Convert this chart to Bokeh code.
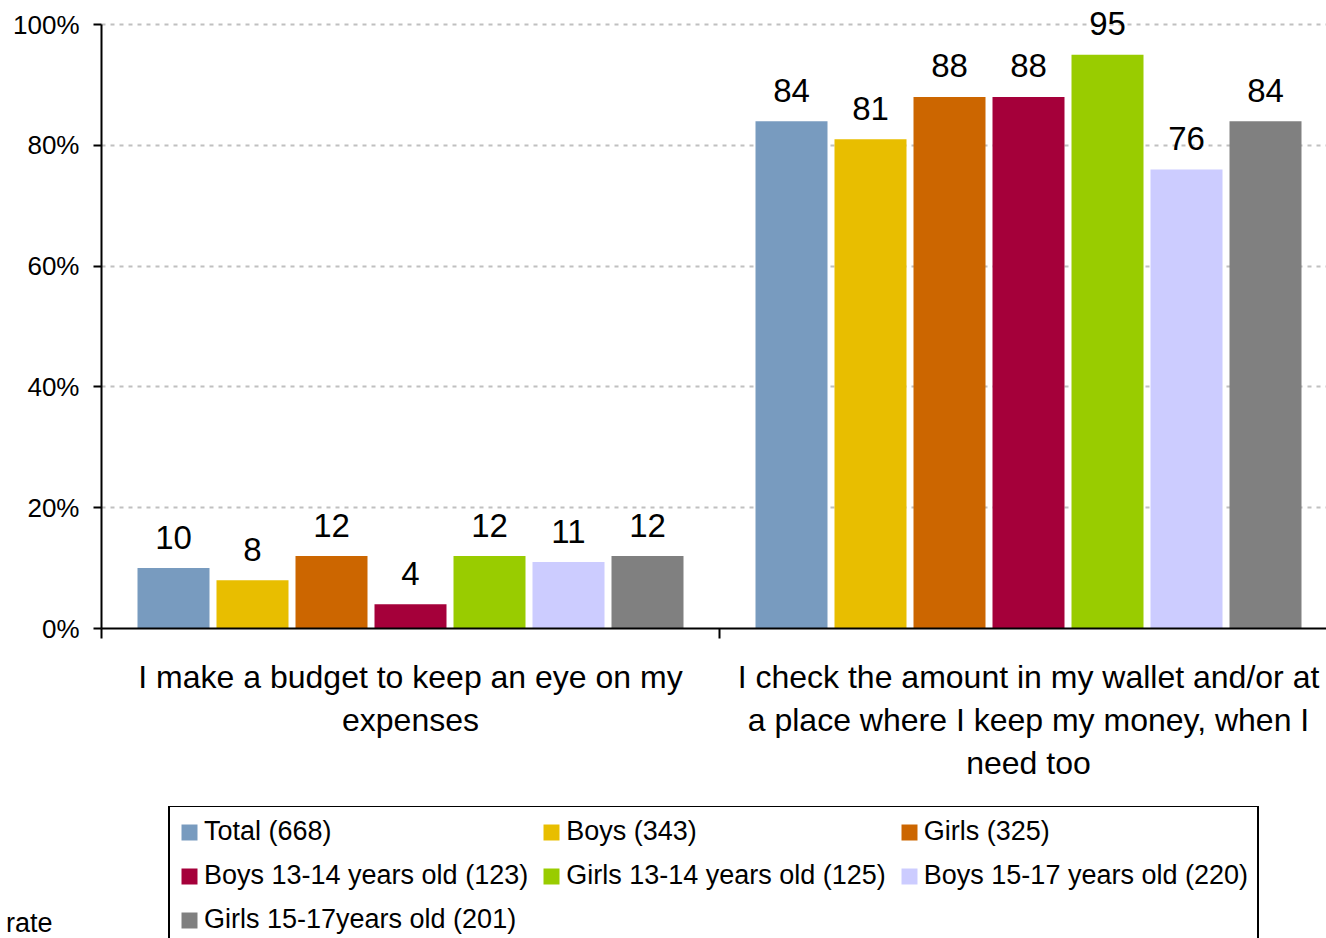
from bokeh.plotting import figure
from bokeh.layouts import column
from bokeh.models import (Range1d, FixedTicker, PrintfTickFormatter, ColumnDataSource,
                          Legend, LegendItem, LinearAxis)
from bokeh.core.properties import value
from bokeh.embed import file_html
from bokeh.resources import INLINE

# ---- data ----
categories = [
    "I make a budget to keep an eye on my\nexpenses",
    "I check the amount in my wallet and/or at\na place where I keep my money, when I\nneed too",
]
series_names = [
    "Total (668)",
    "Boys (343)",
    "Girls (325)",
    "Boys 13-14 years old (123)",
    "Girls 13-14 years old (125)",
    "Boys 15-17 years old (220)",
    "Girls 15-17years old (201)",
]
colors = ["#789BBF", "#E8BE00", "#CC6600", "#A5003A", "#99CC00", "#CCCCFF", "#808080"]
total = [10, 84]
boys = [8, 81]
girls = [12, 88]
boys_13_14 = [4, 88]
girls_13_14 = [12, 95]
boys_15_17 = [11, 76]
girls_15_17 = [12, 84]
series_values = [total, boys, girls, boys_13_14, girls_13_14, boys_15_17, girls_15_17]
y_ticks = [0, 20, 40, 60, 80, 100]
note_text = "rate"

FONT = "Liberation Sans"

# ---- main chart ----
px_per_cat = 618.0
frame_w = 1225
p = figure(width=1326, height=806,
           x_range=Range1d(0, frame_w / px_per_cat),
           y_range=Range1d(0, 100 + 24 / 6.04),
           output_backend="svg", toolbar_location=None,
           min_border_left=101, min_border_right=0, min_border_top=0,
           min_border_bottom=178)
p.outline_line_color = None
p.background_fill_color = "white"
p.border_fill_color = "white"

n = len(series_names)
step = 79.0 / px_per_cat
bw = 72.0 / px_per_cat
cat_centers = [0.5 + i for i in range(len(categories))]

for i, (vals, col) in enumerate(zip(series_values, colors)):
    xs = [c + (i - (n - 1) / 2) * step for c in cat_centers]
    src = ColumnDataSource(dict(x=xs, top=vals, label=[str(v) for v in vals]))
    p.vbar(x="x", top="top", width=bw, bottom=0, source=src,
           fill_color=col, line_color=None)
    p.text(x="x", y="top", text="label", source=src, text_align="center",
           text_baseline="middle", y_offset=-31, text_font=value(FONT),
           text_font_size="33px", text_color="black")

# y axis
p.yaxis.ticker = FixedTicker(ticks=y_ticks)
p.yaxis.formatter = PrintfTickFormatter(format="%d%%")
p.yaxis.bounds = (0, 100)
p.yaxis.axis_line_color = "black"
p.yaxis.axis_line_width = 2
p.yaxis.major_tick_line_width = 2
p.yaxis.major_tick_out = 8
p.yaxis.major_tick_in = 0
p.yaxis.minor_tick_line_color = None
p.yaxis.major_label_text_font = FONT
p.yaxis.major_label_text_font_size = "26px"
p.yaxis.major_label_text_color = "black"
p.yaxis.major_label_standoff = 14

# x axis
p.xaxis.ticker = FixedTicker(ticks=cat_centers, minor_ticks=[0, 1, 2])
p.xaxis.major_label_overrides = {c: lab for c, lab in zip(cat_centers, categories)}
p.xaxis.axis_line_color = "black"
p.xaxis.axis_line_width = 2
p.xaxis.major_tick_line_color = None
p.xaxis.minor_tick_line_color = "black"
p.xaxis.minor_tick_line_width = 2
p.xaxis.minor_tick_out = 10
p.xaxis.minor_tick_in = 0
p.xaxis.major_label_text_font = FONT
p.xaxis.major_label_text_font_size = "32px"
p.xaxis.major_label_text_color = "black"
p.xaxis.major_label_standoff = 20

# grid
p.xgrid.grid_line_color = None
p.ygrid.ticker = FixedTicker(ticks=y_ticks[1:])
p.ygrid.grid_line_color = "#C0C0C0"
p.ygrid.grid_line_width = 2
p.ygrid.grid_line_dash = "4 5"

# ---- legend strip ----
strip_h = 132
pl = figure(width=1326, height=strip_h, x_range=Range1d(0, 1), y_range=Range1d(0, 1),
            output_backend="svg", toolbar_location=None,
            x_axis_location=None, y_axis_location=None,
            min_border_left=101, min_border_right=0, min_border_top=0,
            min_border_bottom=0)
pl.outline_line_color = None
pl.xgrid.grid_line_color = None
pl.ygrid.grid_line_color = None
pl.background_fill_color = "white"
pl.border_fill_color = "white"

items = []
for name, col in zip(series_names, colors):
    # one point outside the visible range: only used for the legend swatch
    r = pl.vbar(x=[5], top=[0.5], width=0.1, fill_color=col, line_color=None)
    items.append(LegendItem(label=name, renderers=[r]))

legend = Legend(items=items, location=(67, -8), orientation="horizontal", ncols=3,
                label_text_font=FONT, label_text_font_size="27px",
                label_text_color="black", glyph_width=20, glyph_height=20,
                label_standoff=5, spacing=13, padding=9, margin=0,
                border_line_color="black", border_line_width=2, border_line_alpha=1.0,
                background_fill_color="white", background_fill_alpha=1.0)
pl.add_layout(legend, "center")

# partly visible note at the bottom left (as a left-side label)
note_axis = LinearAxis(ticker=FixedTicker(ticks=[0.12]),
                       major_label_overrides={0.12: note_text},
                       axis_line_color=None, major_tick_line_color=None,
                       minor_tick_line_color=None, major_tick_out=0, major_tick_in=0,
                       minor_tick_out=0, minor_tick_in=0, major_label_standoff=49,
                       major_label_text_font=FONT, major_label_text_font_size="27px",
                       major_label_text_color="black")
pl.add_layout(note_axis, "left")

layout = column(p, pl, spacing=0)
open("out.html", "w").write(file_html(layout, INLINE))
